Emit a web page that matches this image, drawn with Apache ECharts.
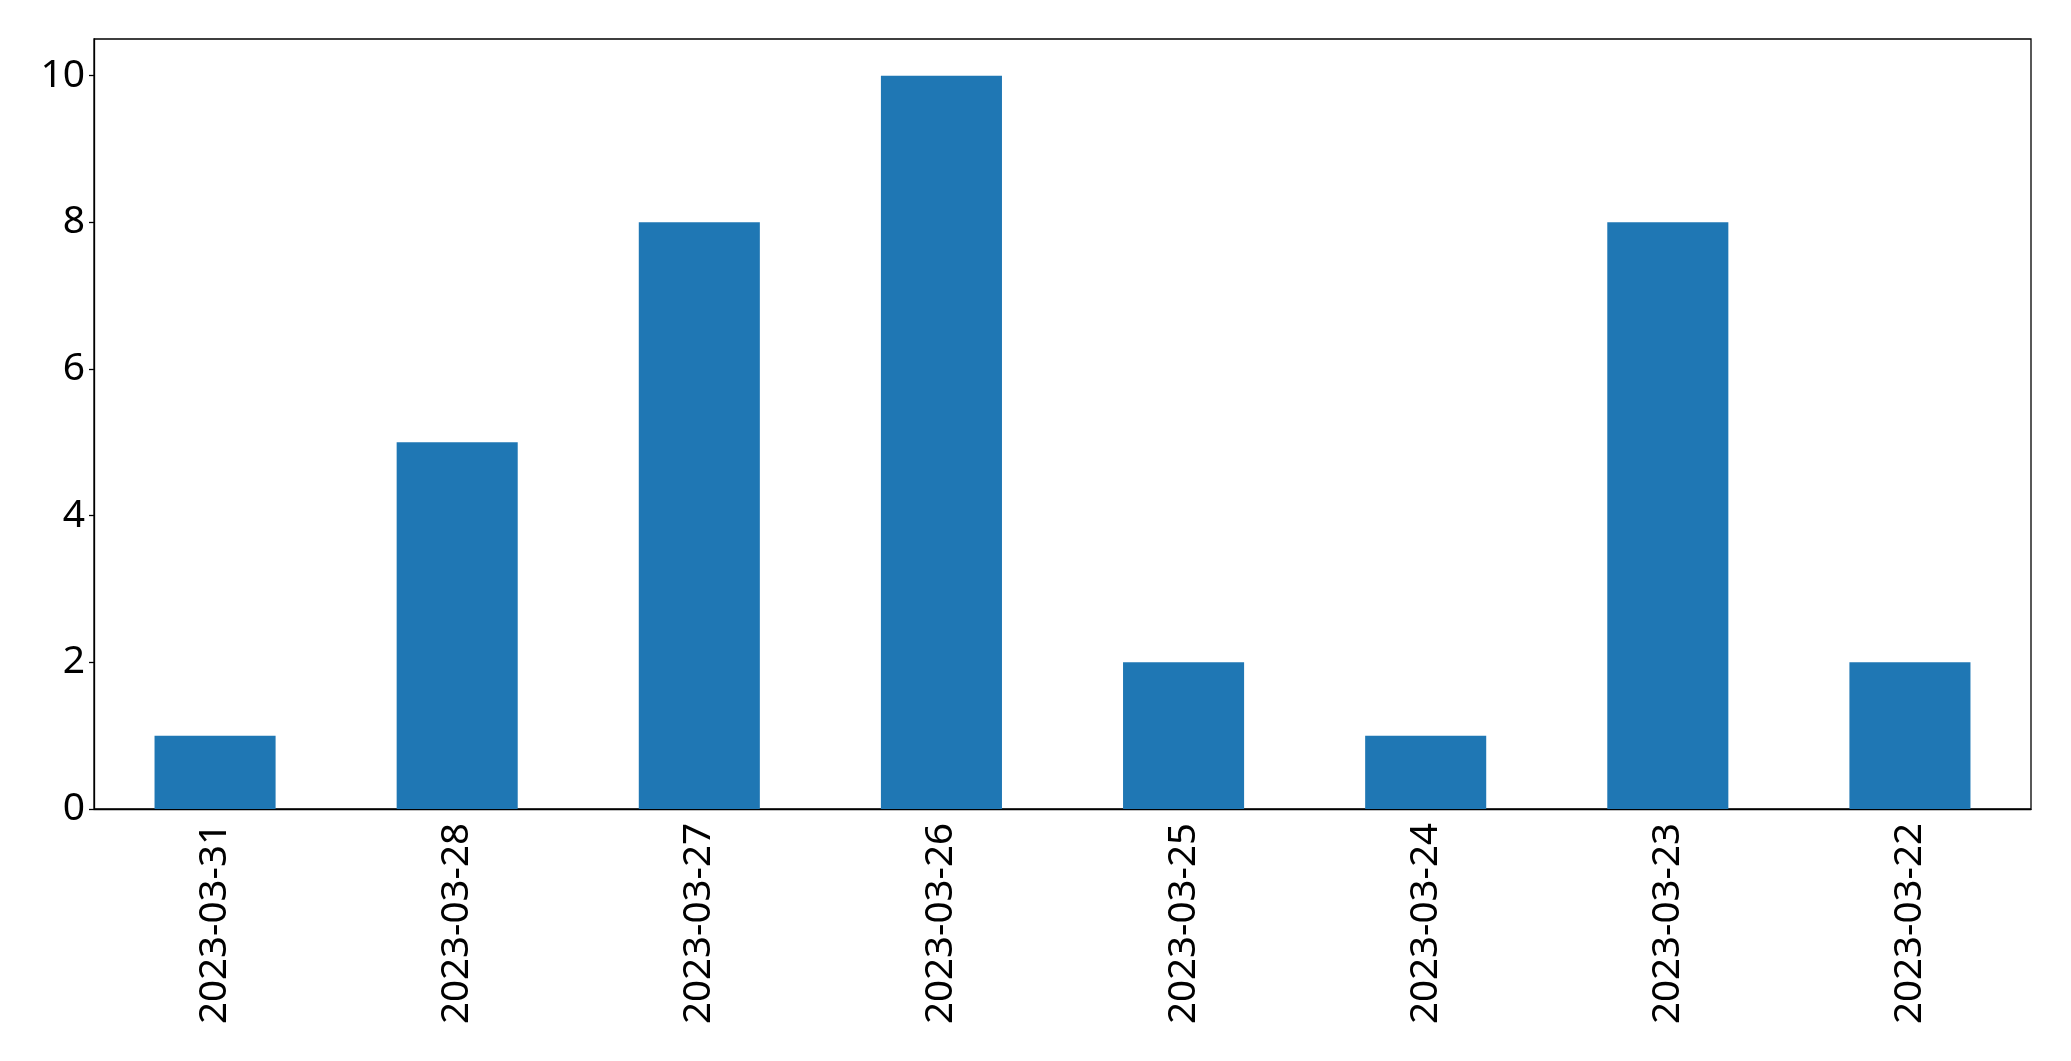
<!DOCTYPE html>
<html><head><meta charset="utf-8">
<script src="https://cdn.jsdelivr.net/npm/echarts@6/dist/echarts.min.js"></script>
<style>html,body{margin:0;padding:0;background:#fff}#c{width:2071px;height:1061px}</style>
</head><body><div id="c"></div>
<script>
const categories = ['2023-03-31','2023-03-28','2023-03-27','2023-03-26','2023-03-25','2023-03-24','2023-03-23','2023-03-22'];
const values = [1, 5, 8, 10, 2, 1, 8, 2];
const yTicks = [0, 2, 4, 6, 8, 10];
const chart = echarts.init(document.getElementById('c'), null, {renderer: 'canvas'});
chart.setOption({
  animation: false,
  grid: {left: 94, right: 40, top: 39, bottom: 252, show: true, borderColor: '#000', borderWidth: 1.3, containLabel: false},
  xAxis: {
    type: 'category', data: categories,
    axisLine: {lineStyle: {color: '#000', width: 1.3}},
    axisTick: {alignWithLabel: true, length: 5, lineStyle: {color: '#000', width: 1.3}},
    axisLabel: {rotate: 90, margin: 14, color: '#000', fontSize: 38.5, fontFamily: 'Noto Sans', interval: 0}
  },
  yAxis: {
    type: 'value', min: 0, max: 10.5,
    splitLine: {show: false},
    axisLine: {show: true, lineStyle: {color: '#000', width: 1.3}},
    axisTick: {show: true, length: 5, customValues: yTicks, lineStyle: {color: '#000', width: 1.3}},
    axisLabel: {margin: 9, color: '#000', fontSize: 39, fontFamily: 'Noto Sans', customValues: yTicks}
  },
  series: [{type: 'bar', data: values, barWidth: '50%', itemStyle: {color: '#1f77b4'}}]
});
</script></body></html>
